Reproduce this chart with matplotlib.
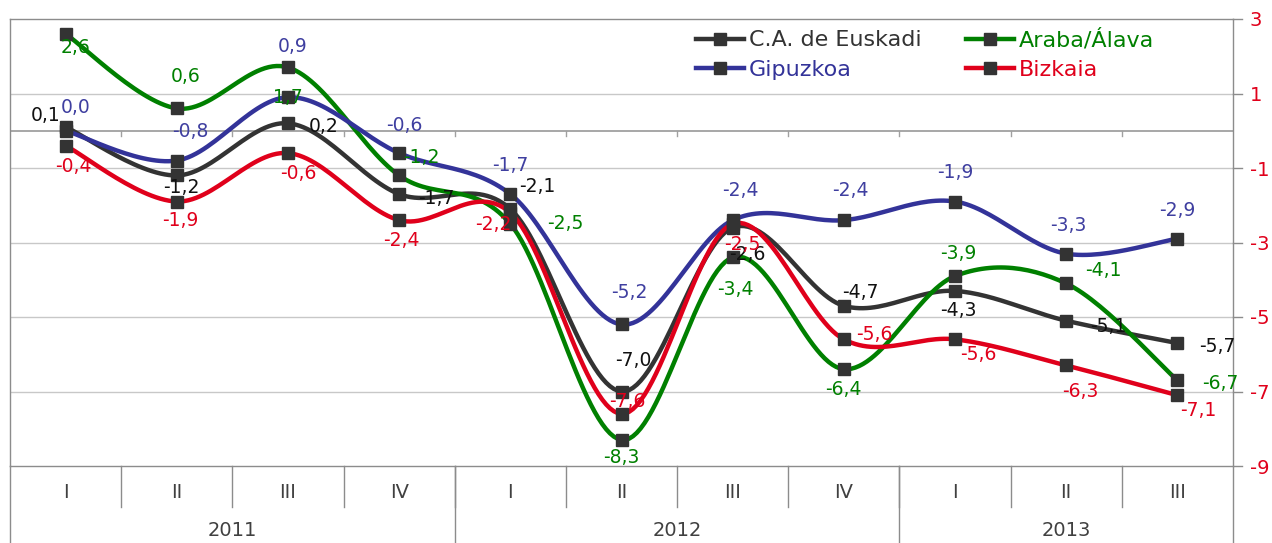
import numpy as np
import matplotlib
matplotlib.use("Agg")
import matplotlib.pyplot as plt
from matplotlib.lines import Line2D

# ---- data ----
quarters = ["I", "II", "III", "IV", "I", "II", "III", "IV", "I", "II", "III"]
years = ["2011", "2012", "2013"]
year_counts = [4, 4, 3]
euskadi = [0.1, -1.2, 0.2, -1.7, -2.1, -7.0, -2.6, -4.7, -4.3, -5.1, -5.7]
araba = [2.6, 0.6, 1.7, -1.2, -2.5, -8.3, -3.4, -6.4, -3.9, -4.1, -6.7]
gipuzkoa = [0.0, -0.8, 0.9, -0.6, -1.7, -5.2, -2.4, -2.4, -1.9, -3.3, -2.9]
bizkaia = [-0.4, -1.9, -0.6, -2.4, -2.2, -7.6, -2.5, -5.6, -5.6, -6.3, -7.1]
yticks = [3, 1, -1, -3, -5, -7, -9]

# ---- styles ----
FONT = ["DejaVu Sans"]
plt.rcParams["font.family"] = FONT
C_BLACK = "#333333"
C_GREEN = "#008000"
C_BLUE = "#333399"
C_RED = "#e0001b"
GRID = "#c8c8c8"
AXC = "#8c8c8c"
LBL = 13.5

# label offsets in pixels (dx, dy)
off_euskadi = [(-20, 12), (5, -12), (36, -3), (37, -4),
               (27, 22), (12, 31), (15, -27), (17, 13),
               (3, -20), (42, -6), (40, -3)]
off_araba = [(10, -14), (9, 32), (0, -30), (22, 18),
             (55, 0), (0, -18), (3, -32), (0, -20),
             (3, 23), (37, 13), (43, -3)]
off_gipuzkoa = [(10, 23), (14, 29), (5, 51), (5, 28),
                (0, 29), (8, 32), (8, 30), (7, 30),
                (0, 29), (2, 28), (0, 28)]
off_bizkaia = [(8, -21), (4, -19), (10, -20), (2, -20),
               (-17, -12), (6, 12), (10, -21), (30, 5),
               (23, -15), (14, -26), (21, -15)]

series = [
    ("C.A. de Euskadi", euskadi, C_BLACK, "#111111", off_euskadi),
    ("Araba/Álava", araba, C_GREEN, C_GREEN, off_araba),
    ("Gipuzkoa", gipuzkoa, C_BLUE, "#3f3fa0", off_gipuzkoa),
    ("Bizkaia", bizkaia, C_RED, C_RED, off_bizkaia),
]


def smooth(xs, ys, n=30):
    xs = np.asarray(xs, float)
    ys = np.asarray(ys, float)
    P = np.column_stack([xs, ys])
    Pext = np.vstack([P[0], P, P[-1]])
    out = []
    for i in range(len(P) - 1):
        p0, p1, p2, p3 = Pext[i], Pext[i + 1], Pext[i + 2], Pext[i + 3]
        c1 = p1 + (p2 - p0) / 6.0
        c2 = p2 - (p3 - p1) / 6.0
        t = np.linspace(0, 1, n)[:, None]
        seg = ((1 - t) ** 3) * p1 + 3 * ((1 - t) ** 2) * t * c1 + 3 * (1 - t) * t ** 2 * c2 + t ** 3 * p2
        out.append(seg if i == 0 else seg[1:])
    S = np.vstack(out)
    return S[:, 0], S[:, 1]


fig = plt.figure(figsize=(12.72, 5.43), dpi=100)
ax = fig.add_axes([10 / 1272, 1 - 466 / 543, 1223 / 1272, 447 / 543])
ax.set_xlim(-0.5, len(quarters) - 0.5)
ax.set_ylim(-9, 3)

x = np.arange(len(quarters))

# grid
for yv in yticks:
    if yv not in (3, -9):
        ax.axhline(yv, color=GRID, lw=1.0, zorder=0)
# zero line with ticks
ax.axhline(0, color="#a0a0a0", lw=1.3, zorder=1)
for b in np.arange(0.5, len(quarters) - 0.5, 1.0):
    ax.plot([b, b], [0, -0.14], color="#a0a0a0", lw=1.0, zorder=1)

# spines
for s in ["left", "top", "bottom"]:
    ax.spines[s].set_color(AXC)
    ax.spines[s].set_linewidth(1.0)
ax.spines["right"].set_visible(False)
ax.set_xticks([])
ax.yaxis.tick_right()
ax.set_yticks(yticks)
ax.set_yticklabels([str(v) for v in yticks], color=C_RED, fontsize=14)
ax.tick_params(axis="y", direction="out", length=0, pad=12)
for yv in yticks:
    ax.plot([1.0, 1.007], [(yv + 9) / 12] * 2, transform=ax.transAxes, color=AXC, lw=1.0, clip_on=False)

# right/left borders extending to bottom
ax.plot([1, 1], [1, -77 / 447], transform=ax.transAxes, color=AXC, lw=1.0, clip_on=False)
ax.plot([0, 0], [0, -77 / 447], transform=ax.transAxes, color=AXC, lw=1.0, clip_on=False)

# category table
trans = ax.get_xaxis_transform()
for b in np.arange(0.5, len(quarters) - 0.5, 1.0):
    ax.plot([b, b], [0, -41 / 447], transform=trans, color=AXC, lw=1.0, clip_on=False)
for q, xi in zip(quarters, x):
    ax.text(xi, -27 / 447, q, transform=trans, ha="center", va="center", fontsize=14, color="#404040")
start = 0
for yr, cnt in zip(years, year_counts):
    end = start + cnt
    if end < len(quarters):
        ax.plot([end - 0.5, end - 0.5], [0, -77 / 447], transform=trans, color=AXC, lw=1.0, clip_on=False)
    ax.text((start + end - 1) / 2, -64 / 447, yr, transform=trans, ha="center", va="center",
            fontsize=14, color="#404040")
    start = end

# series
handles = []
for name, vals, col, lcol, offs in series:
    sx, sy = smooth(x, vals)
    ax.plot(sx, sy, color=col, lw=3.2, zorder=3, solid_capstyle="round")
    ax.plot(x, vals, linestyle="none", marker="s", markersize=9, color="#333333", zorder=4)
    for xi, v, (dx, dy) in zip(x, vals, offs):
        ax.annotate(f"{v:.1f}".replace(".", ","), (xi, v), xytext=(dx, dy),
                    textcoords="offset pixels", ha="center", va="center", fontsize=LBL,
                    color=lcol, zorder=5)
    handles.append(Line2D([0], [0], color=col, lw=3.2, marker="s", markersize=9,
                          markerfacecolor="#333333", markeredgecolor="#333333"))

# legend (row-major: Euskadi, Araba / Gipuzkoa, Bizkaia)
order = [0, 2, 1, 3]
leg = ax.legend([handles[i] for i in order], [series[i][0] for i in order], ncol=2,
                loc="upper left", bbox_to_anchor=(676 / 1223, 1.0), frameon=False,
                fontsize=16, handlelength=2.15, handletextpad=0.22, columnspacing=2.0,
                labelspacing=0.42, borderaxespad=0.3, borderpad=0.15)
for t, i in zip(leg.get_texts(), order):
    t.set_color(series[i][2])

fig.savefig("out.png", dpi=100)
